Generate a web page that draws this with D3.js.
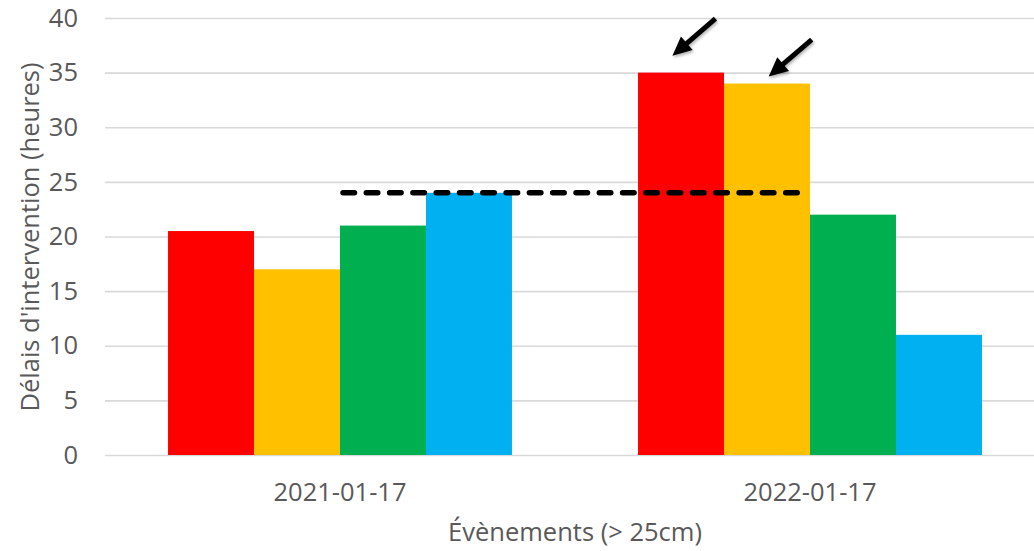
<!DOCTYPE html>
<html><head><meta charset="utf-8">
<script src="https://cdn.jsdelivr.net/npm/d3@7"></script>
<style>body{margin:0;background:#fff}svg{display:block}</style>
</head><body>
<svg id="chart" width="1034" height="551"></svg>
<script>
const categories = ["2021-01-17", "2022-01-17"];
const seriesNames = ["s1", "s2", "s3", "s4"];
const seriesColors = ["#FF0000", "#FFC000", "#00B050", "#00B0F0"];
const values2021 = [20.5, 17, 21, 24];
const values2022 = [35, 34, 22, 11];
const yTicks = [0, 5, 10, 15, 20, 25, 30, 35, 40];
const referenceLine = 24;
const yTitle = "Délais d'intervention (heures)";
const xTitle = "Évènements (> 25cm)";

const rows = [values2021, values2022];
const svg = d3.select("#chart");
const font = "'Open Sans', sans-serif";
const fontSize = "25.5px";
const textColor = "#595959";

const pLeft = 105, pRight = 1045, pTop = 18, pBottom = 455;
const x0 = d3.scaleBand().domain(categories).range([pLeft, pRight]).padding(0);
const x1 = d3.scaleBand().domain(seriesNames).range([0, x0.bandwidth()]).paddingInner(0).paddingOuter(0.733);
const y = d3.scaleLinear().domain([0, 40]).range([pBottom, pTop]);

// gridlines
const gAxis = svg.append("g").attr("transform", `translate(${pLeft},0)`)
  .call(d3.axisLeft(y).tickValues(yTicks).tickSize(-(pRight - pLeft)).tickPadding(27).tickFormat(d3.format("d")));
gAxis.select(".domain").remove();
gAxis.selectAll(".tick line").attr("stroke", "#d9d9d9").attr("stroke-width", 1.6);
gAxis.selectAll(".tick text").attr("fill", textColor).style("font-family", font).style("font-size", fontSize);

// bars
const groups = svg.append("g").selectAll("g").data(categories).join("g")
  .attr("transform", d => `translate(${x0(d)},0)`);
groups.selectAll("rect").data((d, i) => rows[i].map((v, j) => ({v, s: seriesNames[j], c: seriesColors[j]})))
  .join("rect")
  .attr("x", d => x1(d.s)).attr("width", x1.bandwidth())
  .attr("y", d => y(d.v)).attr("height", d => y(0) - y(d.v))
  .attr("fill", d => d.c);

// x axis labels
const xAxis = svg.append("g").attr("transform", `translate(0,${pBottom})`)
  .call(d3.axisBottom(x0).tickSize(0).tickPadding(28));
xAxis.select(".domain").remove();
xAxis.selectAll(".tick text").attr("fill", textColor).style("font-family", font).style("font-size", fontSize);

// dashed reference line
const lx1 = x0(categories[0]) + x1(seriesNames[2]);
const lx2 = x0(categories[1]) + x1(seriesNames[1]) + x1.bandwidth();
svg.append("line")
  .attr("x1", lx1 + 3).attr("x2", lx2 - 3)
  .attr("y1", y(referenceLine)).attr("y2", y(referenceLine))
  .attr("stroke", "#000").attr("stroke-width", 5.5)
  .attr("stroke-linecap", "round").attr("stroke-dasharray", "11.5,11.8");

// arrows
const defs = svg.append("defs");
const filt = defs.append("filter").attr("id", "sh").attr("x", "-50%").attr("y", "-50%").attr("width", "200%").attr("height", "200%");
filt.append("feDropShadow").attr("dx", 1).attr("dy", 2).attr("stdDeviation", 1.5).attr("flood-color", "#000").attr("flood-opacity", 0.3);

const arrows = [{cat: 1, s: 0, hx: 0.4, hy: 17}, {cat: 1, s: 1, hx: 0.52, hy: 7}];
arrows.forEach(a => {
  const bx = x0(categories[a.cat]) + x1(seriesNames[a.s]);
  const hx = bx + a.hx * x1.bandwidth();
  const hy = y(rows[a.cat][a.s]) - a.hy;
  const tx = hx + 43, ty = hy - 37;
  const ang = Math.atan2(hy - ty, hx - tx);
  const L = 19, W = 9;
  const bxp = hx - L * Math.cos(ang), byp = hy - L * Math.sin(ang);
  const px = -Math.sin(ang), py = Math.cos(ang);
  const g = svg.append("g").attr("filter", "url(#sh)");
  g.append("line").attr("x1", tx).attr("y1", ty).attr("x2", bxp + 2 * Math.cos(ang)).attr("y2", byp + 2 * Math.sin(ang))
    .attr("stroke", "#000").attr("stroke-width", 5);
  g.append("path").attr("d", `M${hx},${hy}L${bxp + W * px},${byp + W * py}L${bxp - W * px},${byp - W * py}Z`).attr("fill", "#000");
});

// axis titles
svg.append("text").attr("transform", `translate(29,237) rotate(-90)`)
  .attr("text-anchor", "middle").attr("dominant-baseline", "central")
  .attr("fill", textColor).style("font-family", font).style("font-size", fontSize).text(yTitle);
svg.append("text").attr("x", 575).attr("y", 531)
  .attr("text-anchor", "middle").attr("dominant-baseline", "central")
  .attr("fill", textColor).style("font-family", font).style("font-size", fontSize).text(xTitle);
</script>
</body></html>
